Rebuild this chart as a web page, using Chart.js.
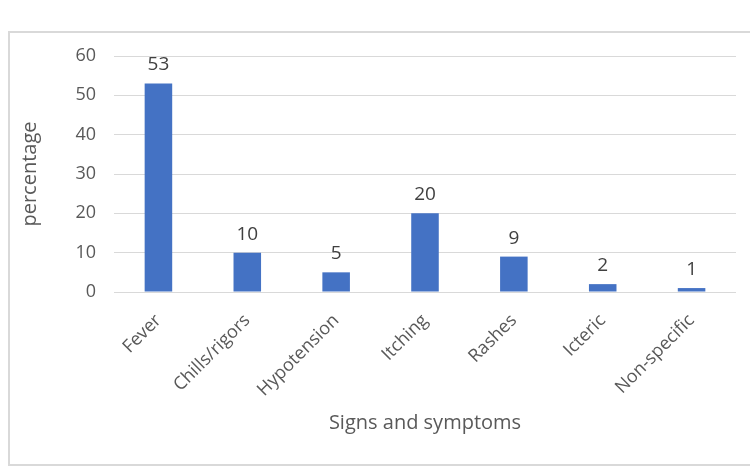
<!DOCTYPE html>
<html>
<head>
<meta charset="utf-8">
<script src="https://cdn.jsdelivr.net/npm/chart.js@4"></script>
<style>
  html, body { margin: 0; padding: 0; background: #fff; }
  #wrap { position: relative; width: 750px; height: 466px; overflow: hidden; }
  #frame { position: absolute; left: 8px; top: 31px; width: 800px; height: 431px; border: 2px solid #d9d9d9; }
  #c { position: absolute; left: 0; top: 0; }
</style>
</head>
<body>
<div id="wrap">
  <div id="frame"></div>
  <canvas id="c" width="750" height="466"></canvas>
</div>
<script>
const categories = ['Fever', 'Chills/rigors', 'Hypotension', 'Itching', 'Rashes', 'Icteric', 'Non-specific'];
const percentages = [53, 10, 5, 20, 9, 2, 1];
const yTicks = [0, 10, 20, 30, 40, 50, 60];

const font = "'Open Sans', 'Noto Sans', sans-serif";

const barLabels = {
    id: 'barLabels',
    afterDatasetsDraw(chart) {
        const ctx = chart.ctx;
        const meta = chart.getDatasetMeta(0);
        ctx.save();
        ctx.font = '19px ' + font;
        ctx.fillStyle = '#404040';
        ctx.textAlign = 'center';
        ctx.textBaseline = 'bottom';
        meta.data.forEach((bar, i) => {
            ctx.fillText(percentages[i], bar.x, bar.y - 9);
        });
        ctx.restore();
    }
};

const ctx = document.getElementById('c').getContext('2d');
const chart = new Chart(ctx, {
    type: 'bar',
    data: {
        labels: categories,
        datasets: [{
            label: 'percentage',
            data: percentages,
            backgroundColor: '#4472c4',
            borderWidth: 0,
            categoryPercentage: 1,
            barPercentage: 0.31
        }]
    },
    options: {
        responsive: false,
        animation: false,
        layout: { padding: { top: 56, right: 14, bottom: 28, left: 14 } },
        plugins: {
            legend: { display: false },
            tooltip: { enabled: false }
        },
        scales: {
            x: {
                grid: { display: false },
                border: { display: false },
                ticks: {
                    color: '#595959',
                    font: { family: font, size: 18 },
                    minRotation: 45,
                    maxRotation: 45,
                    padding: 10
                },
                title: {
                    display: true,
                    text: 'Signs and symptoms',
                    color: '#595959',
                    font: { family: font, size: 20 },
                    padding: { top: 4, bottom: 3 }
                },
                afterFit(s) { s.height = 466 - 28 - 292; }
            },
            y: {
                min: 0,
                max: 60,
                afterBuildTicks(s) { s.ticks = yTicks.map(v => ({ value: v })); },
                grid: { color: '#d9d9d9', lineWidth: 1, drawTicks: false },
                border: { display: false },
                ticks: {
                    color: '#595959',
                    font: { family: font, size: 18 },
                    padding: 18
                },
                title: {
                    display: true,
                    text: 'percentage',
                    color: '#595959',
                    font: { family: font, size: 20 },
                    padding: { top: 4, bottom: 0 }
                },
                afterFit(s) { s.width = 114 - 14; }
            }
        }
    },
    plugins: [barLabels]
});
</script>
</body>
</html>
